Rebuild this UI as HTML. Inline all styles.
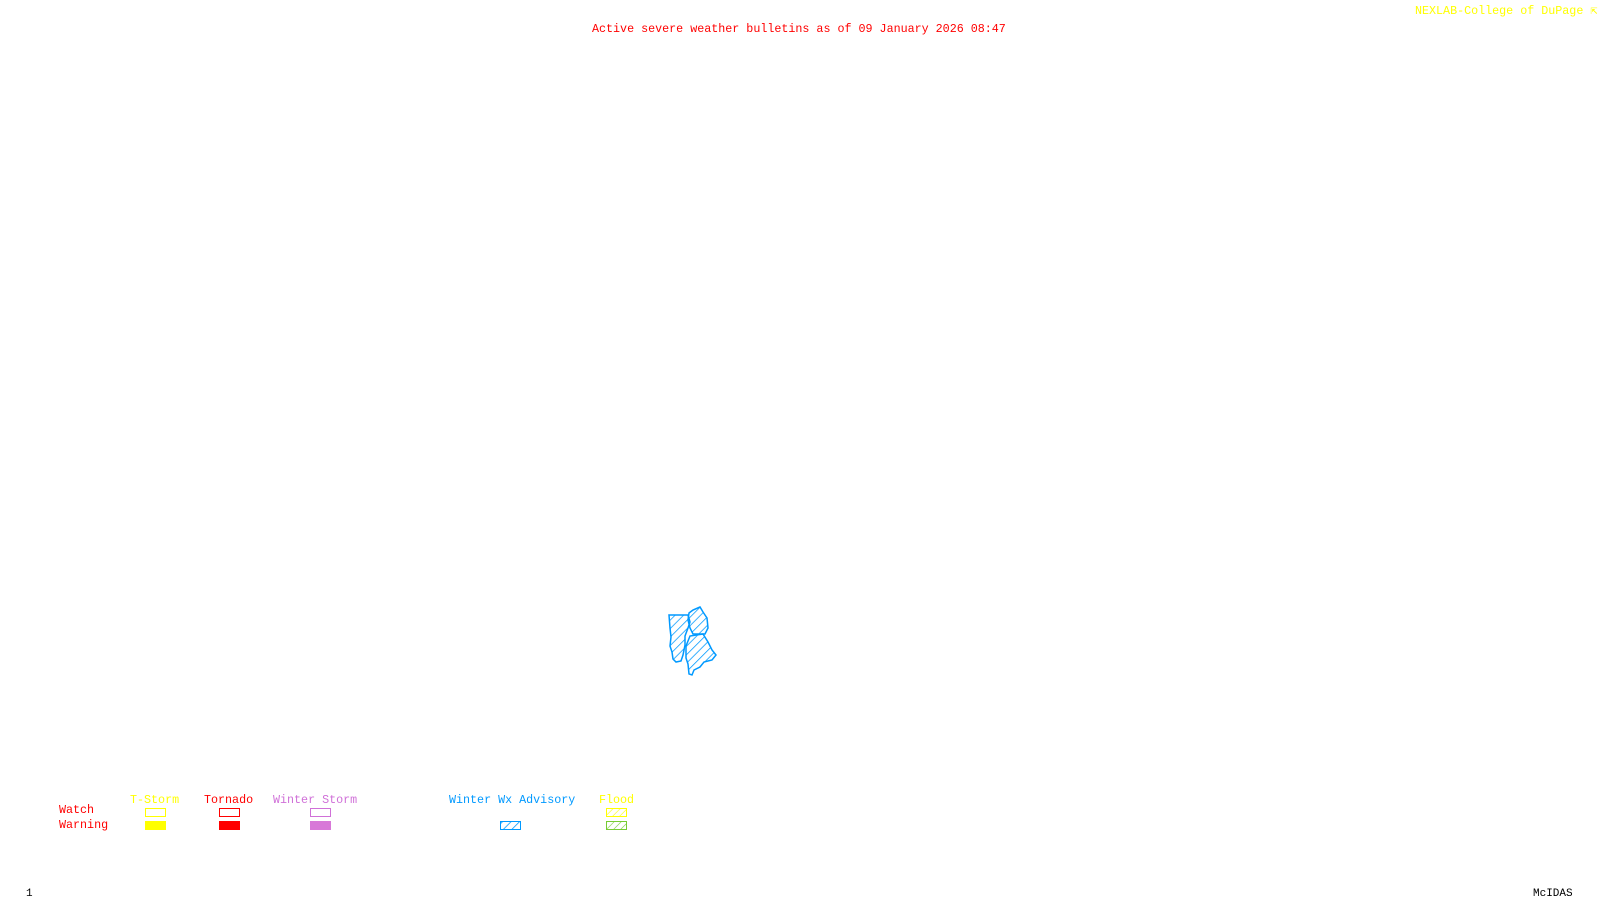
<!DOCTYPE html>
<html><head><meta charset="utf-8"><style>
body{margin:0;width:1600px;height:900px;background:#fff;position:relative;overflow:hidden;font-family:"Liberation Mono",monospace;font-size:11.7px}
.t{position:absolute;white-space:pre;line-height:1}
</style></head><body>
<div class="t" style="left:592px;top:24px;color:#f00">Active severe weather bulletins as of 09 January 2026 08:47</div>
<div class="t" style="left:1415px;top:6px;color:#ff0">NEXLAB-College of DuPage ⇱</div>
<svg width="1600" height="900" style="position:absolute;left:0;top:0">
<defs><pattern id="h" width="6" height="6" patternUnits="userSpaceOnUse" patternTransform="rotate(45)"><line x1="0" y1="0" x2="0" y2="6" stroke="#0099ff" stroke-width="1.5"/></pattern>
<pattern id="hy" width="5" height="5" patternUnits="userSpaceOnUse" patternTransform="rotate(45)"><line x1="0" y1="0" x2="0" y2="5" stroke="#ff0" stroke-width="1.2"/></pattern>
<pattern id="hg" width="5" height="5" patternUnits="userSpaceOnUse" patternTransform="rotate(45)"><line x1="0" y1="0" x2="0" y2="5" stroke="#7c3" stroke-width="1.2"/></pattern></defs>
<g fill="url(#h)" stroke="#0099ff" stroke-width="1.5">
<polygon points="669,615 688,615 690,622 688,628 685,636 685,645 683,655 681,661 676,662 673,659 672,652 670,646 671,637 670,628"/>
<polygon points="689,613 693,610 700,607 703,612 707,618 708,628 705,634 693,634 690,628 688,620"/>
<polygon points="686,646 690,636 703,634 708,642 712,650 716,655 712,660 704,662 700,667 694,670 692,675 689,674 688,664 686,658"/>
</g>
<rect x="145.5" y="808.5" width="20" height="8" fill="none" stroke="#ff0"/>
<rect x="145" y="821" width="21" height="9" fill="#ff0"/>
<rect x="219.5" y="808.5" width="20" height="8" fill="none" stroke="#f00"/>
<rect x="219" y="821" width="21" height="9" fill="#f00"/>
<rect x="310.5" y="808.5" width="20" height="8" fill="none" stroke="#d070d8"/>
<rect x="310" y="821" width="21" height="9" fill="#d878d8"/>
<rect x="500.5" y="821.5" width="20" height="8" fill="url(#h)" stroke="#0099ff"/>
<rect x="606.5" y="808.5" width="20" height="8" fill="url(#hy)" stroke="#ff0"/>
<rect x="606.5" y="821.5" width="20" height="8" fill="url(#hg)" stroke="#7c3"/>
</svg>
<div class="t" style="left:130px;top:795px;color:#ff0">T-Storm</div>
<div class="t" style="left:204px;top:795px;color:#f00">Tornado</div>
<div class="t" style="left:273px;top:795px;color:#d070d8">Winter Storm</div>
<div class="t" style="left:449px;top:795px;color:#0099ff">Winter Wx Advisory</div>
<div class="t" style="left:599px;top:795px;color:#ff0">Flood</div>
<div class="t" style="left:59px;top:805px;color:#f00">Watch</div>
<div class="t" style="left:59px;top:820px;color:#f00">Warning</div>
<div class="t" style="left:26px;top:889px;color:#000;font-size:11px">1</div>
<div class="t" style="left:1533px;top:889px;color:#000;font-size:11px">McIDAS</div>
</body></html>
